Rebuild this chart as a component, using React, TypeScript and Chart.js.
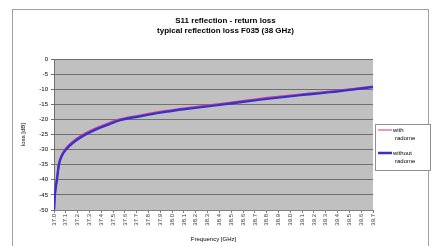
import React, { useEffect, useRef } from "react";
import { Chart, registerables } from "chart.js";

Chart.register(...registerables);

const titleLines = ["S11 reflection - return loss", "typical reflection loss F035 (38 GHz)"];
const seriesNames = ["with radome", "without radome"];
const seriesColors = ["#cc3399", "#3333cc"];
const frequency = [37.0, 37.008, 37.025, 37.042, 37.068, 37.102, 37.153, 37.246, 37.347, 37.475, 37.559, 37.729, 37.898, 38.178, 38.492, 38.746, 39.085, 39.339, 39.593, 39.7];
const withValues = [-50, -44.5, -39.5, -34.6, -31.6, -29.6, -27.6, -25.1, -23.1, -21.1, -20.0, -18.7, -17.5, -16.0, -14.5, -13.2, -11.8, -10.8, -9.6, -9.1];
const withoutValues = [-50, -45, -40, -35, -32, -30, -28, -25.5, -23.5, -21.5, -20.3, -19, -17.8, -16.3, -14.8, -13.5, -12, -11, -9.8, -9.3];
const xTicks = { min: 37.0, max: 39.7, step: 0.1 };
const yTicks = { min: -50, max: 0, step: 5 };

const FONT = "'Liberation Sans', Arial, sans-serif";

export default function App() {
  const ref = useRef<HTMLCanvasElement>(null);
  useEffect(() => {
    const canvas = ref.current!;
    const frame = {
      id: "frame",
      beforeDraw(chart: any) {
        const { ctx, chartArea: a } = chart;
        ctx.save();
        ctx.fillStyle = "#ffffff";
        ctx.fillRect(0, 0, chart.width, chart.height);
        ctx.strokeStyle = "#a0a0a0";
        ctx.lineWidth = 1;
        ctx.strokeRect(12.5, 9.5, 416, 260);
        ctx.fillStyle = "#c0c0c0";
        ctx.fillRect(a.left, a.top, a.right - a.left, a.bottom - a.top);
        ctx.restore();
      },
      afterDraw(chart: any) {
        const { ctx } = chart;
        const x0 = 375, y0 = 124, w = 55, h = 46;
        ctx.save();
        ctx.fillStyle = "#ffffff";
        ctx.fillRect(x0, y0, w, h);
        ctx.strokeStyle = "#909090";
        ctx.lineWidth = 1;
        ctx.strokeRect(x0 + 0.5, y0 + 0.5, w, h);
        ctx.font = `6px ${FONT}`;
        ctx.fillStyle = "#000";
        ctx.textBaseline = "middle";
        chart.data.datasets.forEach((ds: any, i: number) => {
          const yy = y0 + 6 + i * 23;
          ctx.strokeStyle = ds.borderColor;
          ctx.lineWidth = i === 0 ? 1 : 2.5;
          ctx.beginPath();
          ctx.moveTo(x0 + 3, yy);
          ctx.lineTo(x0 + 17, yy);
          ctx.stroke();
          const parts = String(ds.label).split(" ");
          ctx.fillText(parts[0], x0 + 18, yy);
          ctx.fillText(parts.slice(1).join(" "), x0 + 20, yy + 8);
        });
        ctx.restore();
      },
    };
    const chart = new Chart(canvas, {
      type: "line",
      data: {
        datasets: [withValues, withoutValues].map((vals, i) => ({
          label: seriesNames[i],
          data: vals.map((v, j) => ({ x: frequency[j], y: v })),
          borderColor: seriesColors[i],
          borderWidth: i === 0 ? 2.2 : 2.2,
          order: i === 0 ? 1 : 0,
          pointRadius: 0,
          cubicInterpolationMode: "monotone" as const,
          fill: false,
        })),
      },
      options: {
        animation: false,
        responsive: false,
        layout: { padding: { left: 20, right: 0, top: 0, bottom: 0 } },
        plugins: {
          legend: { display: false },
          tooltip: { enabled: false },
          title: {
            display: true,
            text: titleLines,
            color: "#000",
            font: { family: FONT, size: 8, weight: "bold", lineHeight: 1.25 },
            padding: { top: 16, bottom: 23 },
          },
        },
        scales: {
          x: {
            type: "linear",
            min: xTicks.min,
            max: xTicks.max,
            afterFit: (s: any) => { s.height = 36; },
            afterBuildTicks: (s: any) => {
              const t = [];
              for (let v = xTicks.min; v <= xTicks.max + 1e-9; v += xTicks.step) t.push({ value: Math.round(v * 10) / 10 });
              s.ticks = t;
            },
            ticks: {
              autoSkip: false,
              maxRotation: 90,
              minRotation: 90,
              color: "#333",
              font: { family: FONT, size: 6 },
              padding: 1,
              callback: (v: any) => Number(v).toFixed(1),
            },
            grid: { drawOnChartArea: false, color: "#808080", tickLength: 3 },
            border: { color: "#808080" },
            title: { display: true, text: "Frequency [GHz]", color: "#000", font: { family: FONT, size: 6 }, padding: { top: 0, bottom: 3 } },
          },
          y: {
            min: yTicks.min,
            max: yTicks.max,
            afterFit: (s: any) => { s.width = 34; },
            ticks: { stepSize: yTicks.step, color: "#000", font: { family: FONT, size: 6 }, padding: 3 },
            grid: { color: "#707070", tickLength: 3, lineWidth: 1 },
            border: { color: "#707070" },
            title: { display: true, text: "loss [dB]", color: "#000", font: { family: FONT, size: 6 }, padding: { top: 0, bottom: 0 } },
          },
          legendSpace: {
            position: "right",
            min: yTicks.min,
            max: yTicks.max,
            afterFit: (s: any) => { s.width = 58; },
            ticks: { display: false },
            grid: { drawOnChartArea: false, drawTicks: false, display: false },
            border: { display: false },
          },
        },
      },
      plugins: [frame],
    });
    return () => chart.destroy();
  }, []);
  return (
    <div style={{ position: "absolute", left: 0, top: 0, width: 431, height: 246 }}>
      <canvas ref={ref} width={431} height={246} style={{ display: "block" }} />
    </div>
  );
}
